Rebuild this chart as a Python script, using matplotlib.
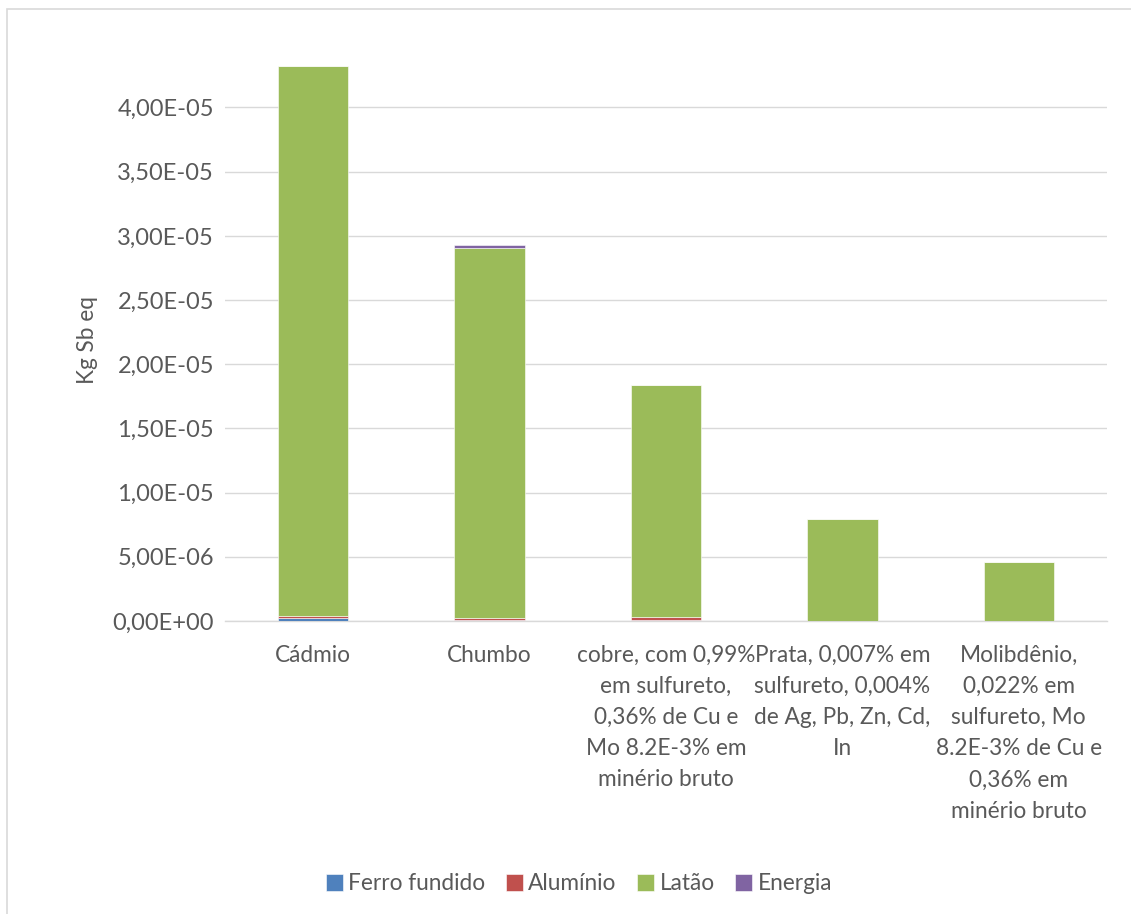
import matplotlib
matplotlib.use("Agg")
import matplotlib.pyplot as plt
from matplotlib.patches import Rectangle
from matplotlib.ticker import FuncFormatter, MultipleLocator
import numpy as np

plt.rcParams['font.family'] = ['Lato', 'DejaVu Sans']

categories = [
    "Cádmio",
    "Chumbo",
    "cobre, com 0,99%\nem sulfureto,\n0,36% de Cu e\nMo 8.2E-3% em\nminério bruto",
    "Prata, 0,007% em\nsulfureto, 0,004%\nde Ag, Pb, Zn, Cd,\nIn",
    "Molibdênio,\n0,022% em\nsulfureto, Mo\n8.2E-3% de Cu e\n0,36% em\nminério bruto",
]
series_names = ["Ferro fundido", "Alumínio", "Latão", "Energia"]
ferro = [2.5e-7, 1.0e-7, 5.0e-8, 0.0, 0.0]
aluminio = [1.5e-7, 1.5e-7, 2.7e-7, 1.0e-8, 1.0e-8]
latao = [4.280e-5, 2.878e-5, 1.805e-5, 7.93e-6, 4.58e-6]
energia = [0.0, 2.3e-7, 0.0, 0.0, 0.0]

colors = ["#4F81BD", "#C0504D", "#9BBB59", "#8064A2"]
text_color = "#595959"

fig = plt.figure(figsize=(11.31, 9.14), dpi=100)
ax = fig.add_axes([225 / 1131, 1 - 621 / 914, (1107 - 225) / 1131, (621 - 60) / 914])

x = np.arange(len(categories))
bottom = np.zeros(len(categories))
for name, vals, c in zip(series_names, [ferro, aluminio, latao, energia], colors):
    ax.bar(x, vals, width=0.40, bottom=bottom, color=c, label=name,
           edgecolor="white", linewidth=0.4, zorder=3)
    bottom += np.array(vals)

ax.set_xlim(-0.5, len(categories) - 0.5)
ax.set_ylim(0, 4.37e-5)
ax.yaxis.set_major_locator(MultipleLocator(5e-6))


def fmt(v, pos):
    return f"{v:.2E}".replace(".", ",")


ax.yaxis.set_major_formatter(FuncFormatter(fmt))
ax.grid(axis="y", color="#D9D9D9", linewidth=1.0, zorder=0)
for s in ["top", "right", "left"]:
    ax.spines[s].set_visible(False)
ax.spines["bottom"].set_color("#D9D9D9")
ax.spines["bottom"].set_linewidth(1.0)
ax.tick_params(axis="y", length=0, labelsize=17, colors=text_color, pad=8)
ax.tick_params(axis="x", length=0, labelsize=16.3, colors=text_color, pad=17)
ax.set_xticks(x)
ax.set_xticklabels(categories, linespacing=1.6, va="top")
ax.set_ylabel("Kg Sb eq", fontsize=16.3, color=text_color, labelpad=10)

fig.legend(loc="center", bbox_to_anchor=(579 / 1131, 1 - 884 / 914), ncol=4,
           frameon=False, fontsize=16.3, handlelength=0.75, handleheight=0.75,
           handletextpad=0.25, columnspacing=0.9, labelcolor=text_color)

fig.patches.append(Rectangle((7 / 1131, -0.01), 1.1, 1 - 9 / 914 + 0.01,
                             transform=fig.transFigure, fill=False,
                             edgecolor="#D9D9D9", linewidth=1.2))

fig.savefig("out.png", dpi=100)
